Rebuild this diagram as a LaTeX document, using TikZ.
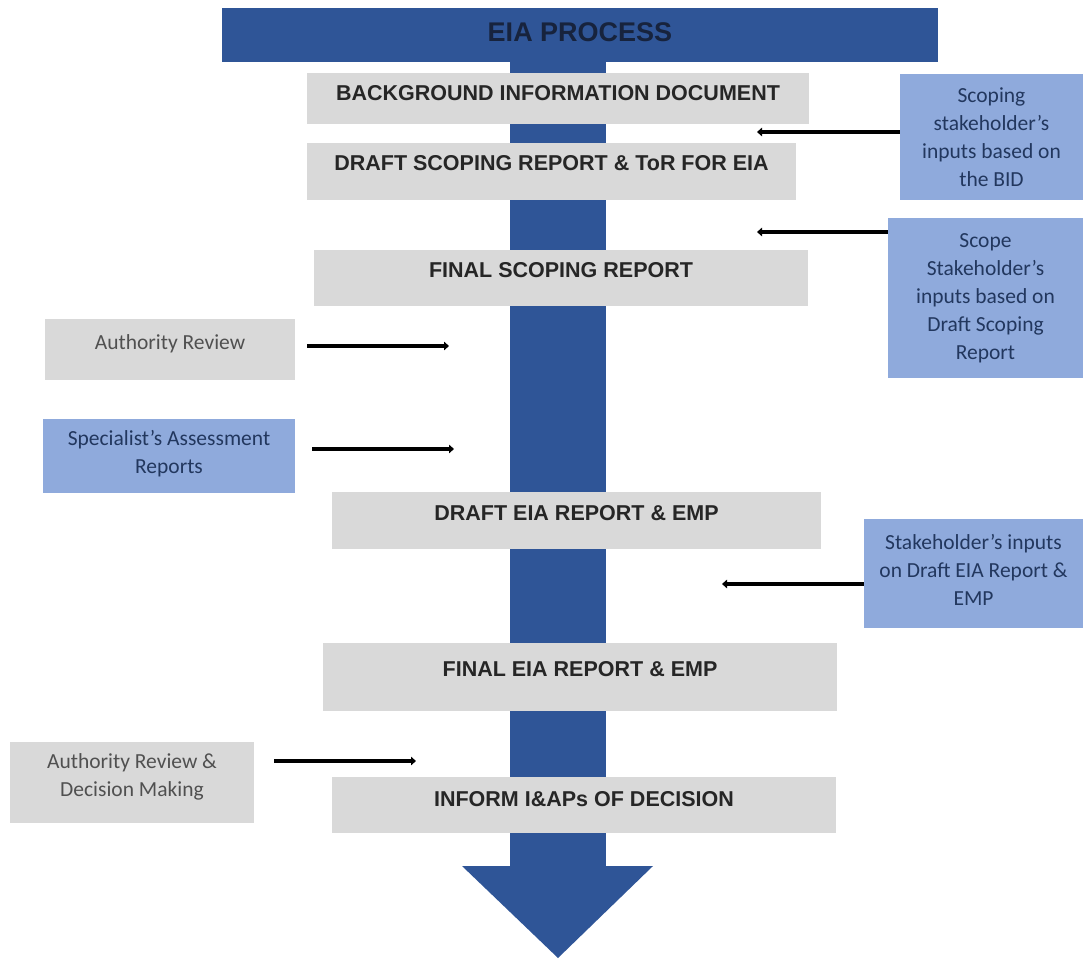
\documentclass[tikz,border=0pt]{standalone}
\usepackage{fontspec}
\setmainfont{Liberation Sans}
\newfontfamily\calib{Carlito}
\usetikzlibrary{arrows.meta}
\definecolor{eiablue}{HTML}{2F5597}
\definecolor{boxgrey}{HTML}{D9D9D9}
\definecolor{lightblue}{HTML}{8FAADC}
\definecolor{maintext}{HTML}{262626}
\definecolor{bannertext}{HTML}{17233D}
\definecolor{navytext}{HTML}{22375E}
\definecolor{greytext}{HTML}{505050}
\begin{document}
\begin{tikzpicture}[x=1pt,y=-1pt,
  mainbox/.style={fill=boxgrey, inner sep=0pt, text height=15.4pt,
    font=\fontsize{21.5}{26}\selectfont\bfseries, text=maintext},
  sidebox/.style={inner sep=0pt, align=center,
    font=\calib\fontsize{21.5}{28}\selectfont},
  greyside/.style={sidebox, fill=boxgrey, text=greytext},
  blueside/.style={sidebox, fill=lightblue, text=navytext},
  feed/.style={line width=4.5pt, -{Triangle[length=5pt,width=8.5pt]}}]
\useasboundingbox (0,0) rectangle (1083,960);
% central shaft and arrowhead
\fill[eiablue] (510,62) rectangle (606,867);
\fill[eiablue] (462,866) -- (653,866) -- (558,958) -- cycle;
% banner
\node[fill=eiablue, inner sep=0pt, minimum width=716pt, minimum height=54pt,
  text height=19.3pt, text depth=6pt, text=bannertext,
  font=\fontsize{27}{32}\selectfont\bfseries] (banner) at (580,35) {EIA PROCESS};
% main steps
\node[mainbox, minimum width=502pt, minimum height=51pt, text depth=11pt] (bid) at (558,98.5) {BACKGROUND INFORMATION DOCUMENT};
\node[mainbox, minimum width=489pt, minimum height=57pt, text depth=17pt] (dsr) at (551.5,171.5) {DRAFT SCOPING REPORT \& ToR FOR EIA};
\node[mainbox, minimum width=494pt, minimum height=56pt, text depth=16pt] (fsr) at (561,278) {FINAL SCOPING REPORT};
\node[mainbox, minimum width=489pt, minimum height=57pt, text depth=15pt] (deia) at (576.5,520.5) {DRAFT EIA REPORT \& EMP};
\node[mainbox, minimum width=514pt, minimum height=68pt, text depth=16pt] (feia) at (580,677) {FINAL EIA REPORT \& EMP};
\node[mainbox, minimum width=504pt, minimum height=56pt, text depth=12pt] (inf) at (584,805) {INFORM I\&APs OF DECISION};
% right inputs
\node[blueside, minimum width=183pt, minimum height=126pt] (rb1) at (991.5,137) {Scoping\\stakeholder’s\\inputs based on\\the BID};
\node[blueside, minimum width=195pt, minimum height=160pt] (rb2) at (985.5,298) {Scope\\Stakeholder’s\\inputs based on\\Draft Scoping\\Report};
\node[blueside, minimum width=219pt, minimum height=109pt] (rb3) at (973.5,573.5) {Stakeholder’s inputs\\on Draft EIA Report \&\\EMP\rule[-7pt]{0pt}{0pt}};
% left inputs
\node[greyside, minimum width=250pt, minimum height=61pt, text height=15pt, text depth=15pt] (ar) at (170,349.5) {Authority Review};
\node[blueside, minimum width=252pt, minimum height=74pt] (spec) at (169,456) {Specialist’s Assessment\\Reports\rule[-9pt]{0pt}{0pt}};
\node[greyside, minimum width=244pt, minimum height=81pt] (ard) at (132,782.5) {Authority Review \&\\Decision Making\rule[-14pt]{0pt}{0pt}};
% feed arrows
\coordinate (e1) at (757,132);
\coordinate (e2) at (757,232);
\coordinate (e3) at (722,584);
\coordinate (e4) at (449,346);
\coordinate (e5) at (454,449);
\coordinate (e6) at (416,761);
\draw[feed] (e1 -| rb1.west) -- (e1);
\draw[feed] (e2 -| rb2.west) -- (e2);
\draw[feed] (e3 -| rb3.west) -- (e3);
\draw[feed] ([xshift=12pt]e4 -| ar.east) -- (e4);
\draw[feed] ([xshift=17pt]e5 -| spec.east) -- (e5);
\draw[feed] ([xshift=20pt]e6 -| ard.east) -- (e6);
\end{tikzpicture}
\end{document}
